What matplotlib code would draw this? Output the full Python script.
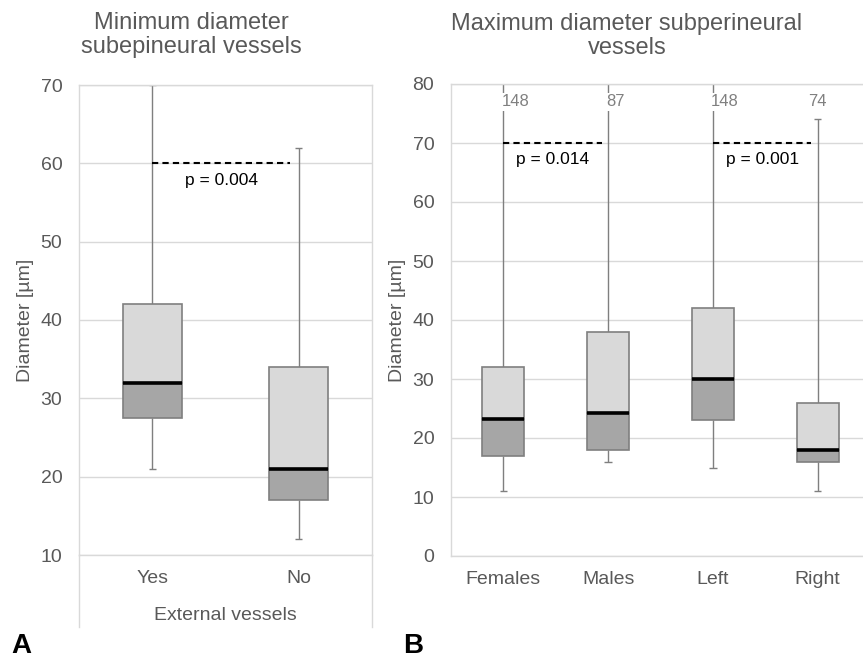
import matplotlib
matplotlib.use("Agg")
import matplotlib.pyplot as plt

plt.rcParams["font.family"] = ["Liberation Sans", "DejaVu Sans"]

# Panel A: minimum diameter, subepineural vessels, by external vessels
groups_a = ["Yes", "No"]
a_min = [21, 12]
a_q1 = [27.5, 17]
a_med = [32, 21]
a_q3 = [42, 34]
a_max = [70, 62]
a_pvals = [(0, 1, 60, "p = 0.004")]

# Panel B: maximum diameter, subperineural vessels
groups_b = ["Females", "Males", "Left", "Right"]
b_min = [11, 16, 15, 11]
b_q1 = [17, 18, 23, 16]
b_med = [23.2, 24.2, 30, 18]
b_q3 = [32, 38, 42, 26]
b_max = [148, 87, 148, 74]
b_pvals = [(0, 1, 70, "p = 0.014"), (2, 3, 70, "p = 0.001")]

W, H = 863, 661
TXT = "#595959"
GRID = "#d9d9d9"
LIGHT = "#d9d9d9"
DARK = "#a6a6a6"
EDGE = "#7f7f7f"


def px(x0, y0, x1, y1):
    # pixel box (left, top, right, bottom) -> figure fraction rect
    return [x0 / W, 1 - y1 / H, (x1 - x0) / W, (y1 - y0) / H]


def draw_boxes(ax, mins, q1, med, q3, maxs, width=0.4, cap=0.06):
    xs = list(range(1, len(med) + 1))
    for x, lo, a, m, b, hi in zip(xs, mins, q1, med, q3, maxs):
        ax.vlines(x, lo, a, color=EDGE, lw=1.0, zorder=2)
        ax.vlines(x, b, hi, color=EDGE, lw=1.0, zorder=2)
        ax.hlines([lo, hi], x - cap / 2, x + cap / 2, color=EDGE, lw=1.0, zorder=2)
        ax.bar(x, m - a, bottom=a, width=width, color=DARK, edgecolor=EDGE,
               linewidth=1.2, zorder=3)
        ax.bar(x, b - m, bottom=m, width=width, color=LIGHT, edgecolor=EDGE,
               linewidth=1.2, zorder=3)
        ax.hlines(m, x - width / 2, x + width / 2, color="black", lw=2.6, zorder=4)
    return xs


def style_axes(ax, lo, hi, labels):
    ax.set_ylim(lo, hi)
    ax.set_xlim(0.5, len(labels) + 0.5)
    ax.set_yticks(range(lo, hi + 1, 10))
    ax.set_xticks(range(1, len(labels) + 1))
    ax.set_xticklabels(labels)
    ax.yaxis.grid(True, color=GRID, lw=1.0)
    ax.set_axisbelow(True)
    ax.tick_params(length=0, labelsize=14, labelcolor=TXT)
    ax.tick_params(axis="y", pad=12)
    ax.tick_params(axis="x", pad=11)
    for sp in ax.spines.values():
        sp.set_color(GRID)
        sp.set_linewidth(1.0)


def draw_pvals(ax, pvals):
    for i, j, y, txt in pvals:
        x1, x2 = i + 1, j + 1 - 0.06
        ax.plot([x1, x2], [y, y], color="black", lw=1.5, dashes=(3, 2), zorder=5)
        ax.annotate(txt, ((x1 + x2) / 2, y), xytext=(0, -12),
                    textcoords="offset points", ha="center", va="center",
                    fontsize=12.5, color="black")


fig = plt.figure(figsize=(W / 100, H / 100), dpi=100)

# ---- Panel A
ax_a = fig.add_axes(px(79, 85, 372, 555))
draw_boxes(ax_a, a_min, a_q1, a_med, a_q3, a_max, cap=0.05)
style_axes(ax_a, 10, 70, groups_a)
draw_pvals(ax_a, a_pvals)
# chart border continues below the plot area
for xa in (0, 1):
    ax_a.plot([xa, xa], [0, -72 / 470], transform=ax_a.transAxes, color=GRID,
              lw=1.0, clip_on=False)

fig.text(191 / W, 1 - 35 / H, "Minimum diameter\nsubepineural vessels",
         ha="center", va="center", fontsize=17, color=TXT, linespacing=1.1)
fig.text(25 / W, 1 - 320 / H, "Diameter [µm]", rotation=90, ha="center",
         va="center", fontsize=14, color=TXT)
fig.text(225 / W, 1 - 616 / H, "External vessels", ha="center", va="center",
         fontsize=14, color=TXT)

# ---- Panel B
ax_b = fig.add_axes(px(451, 84, 870, 556))
xs_b = draw_boxes(ax_b, b_min, b_q1, b_med, b_q3, b_max, cap=0.07)
style_axes(ax_b, 0, 80, groups_b)
draw_pvals(ax_b, b_pvals)

# max-value labels near the top (whiskers run off the axis)
label_y = 77
label_ha = ["left", "left", "left", "center"]
for x, v, ha in zip(xs_b, b_max, label_ha):
    xt = x - 0.02 if ha == "left" else x
    ax_b.text(xt, label_y, str(v), ha=ha, va="center", fontsize=12,
              color="#808080", zorder=6,
              bbox=dict(facecolor="white", edgecolor="none", pad=1.0))

fig.text(627 / W, 1 - 36 / H, "Maximum diameter subperineural\nvessels",
         ha="center", va="center", fontsize=17, color=TXT, linespacing=1.1)
fig.text(397 / W, 1 - 320 / H, "Diameter [µm]", rotation=90, ha="center",
         va="center", fontsize=14, color=TXT)

# panel letters
fig.text(21 / W, 1 - 646 / H, "A", ha="center", va="center", fontsize=20,
         fontweight="bold", color="black")
fig.text(413 / W, 1 - 646 / H, "B", ha="center", va="center", fontsize=20,
         fontweight="bold", color="black")

fig.savefig("out.png", dpi=100)
